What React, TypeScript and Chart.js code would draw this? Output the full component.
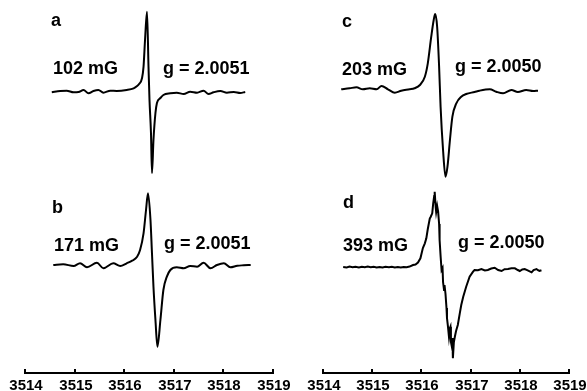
import React, { useEffect, useRef } from "react";
import { Chart, registerables } from "chart.js";

Chart.register(...registerables);

// Magnetic field axis (G)
const fieldTicks = [3514, 3515, 3516, 3517, 3518, 3519];
const fieldTickLabels = ["3514", "3515", "3516", "3517", "3518", "3519"];

// Spectrum a (102 mG, g = 2.0051)
const fieldA = [3514.54, 3514.71, 3514.84, 3514.98, 3515.08, 3515.18, 3515.28, 3515.38, 3515.48, 3515.58, 3515.72, 3515.85, 3516.05, 3516.19, 3516.26, 3516.30, 3516.36, 3516.39, 3516.42, 3516.46, 3516.49, 3516.51, 3516.54, 3516.56, 3516.59, 3516.63, 3516.66, 3516.73, 3516.79, 3516.93, 3517.06, 3517.20, 3517.33, 3517.47, 3517.60, 3517.70, 3517.80, 3517.94, 3518.07, 3518.21, 3518.34, 3518.44];
const signalA = [-1.3, 0, 0.3, -1.3, -1, 1, -2.3, 0, 1, -1.7, 0.3, 0, 1, 2.7, 5, 7, 13, 24.3, 51, 79.3, 24.3, -9, -42, -82, -49, -22, -12, -7, -4, -2.3, -1.7, -3, -0.7, -1.7, 0.3, -3, -1.3, 0, -1.7, -1, -2, -1];

// Spectrum b (171 mG, g = 2.0051)
const fieldB = [3514.57, 3514.77, 3514.98, 3515.11, 3515.25, 3515.45, 3515.58, 3515.78, 3515.92, 3516.05, 3516.16, 3516.26, 3516.32, 3516.39, 3516.44, 3516.48, 3516.53, 3516.56, 3516.59, 3516.63, 3516.67, 3516.73, 3516.79, 3516.86, 3516.93, 3517.06, 3517.20, 3517.33, 3517.47, 3517.60, 3517.74, 3517.87, 3518.01, 3518.14, 3518.28, 3518.41, 3518.55];
const signalB = [0, 0.7, -1, 1.7, -2.3, 2.3, -3.3, 1.7, -1, 1.7, 4.3, 8.3, 15, 31.7, 55, 71.7, 45, 11.7, -21.7, -55, -81.7, -55, -25, -11.7, -5, -2.3, -3.3, -1, -1.7, 2.3, -3.3, 0, 1.7, -2.3, -0.7, -0.3, 0];

// Spectrum c (203 mG, g = 2.0050)
const fieldC = [3514.37, 3514.54, 3514.68, 3514.81, 3514.95, 3515.09, 3515.19, 3515.32, 3515.46, 3515.59, 3515.76, 3515.86, 3515.97, 3516.07, 3516.13, 3516.20, 3516.25, 3516.28, 3516.32, 3516.36, 3516.39, 3516.44, 3516.49, 3516.53, 3516.58, 3516.63, 3516.71, 3516.81, 3516.91, 3517.08, 3517.18, 3517.39, 3517.52, 3517.66, 3517.83, 3517.96, 3518.13, 3518.27, 3518.37];
const signalC = [-0.3, 0.7, 1.7, -0.3, 0.7, -0.3, 3, -0.3, -3.7, -1.7, -0.3, 0.7, 4, 12.3, 25.7, 52.3, 69, 75, 62.3, 22.3, -17.7, -61, -87.7, -77.7, -51, -27.7, -14.3, -7.7, -5, -3, -1.7, -0.3, -2.7, -4.3, -1, -3, -1, -2, -1.7];

// Spectrum d (393 mG, g = 2.0050)
const fieldD = [
  3514.41, 3514.48, 3514.54, 3514.60, 3514.66, 3514.73, 3514.79, 3514.85, 3514.91, 3514.97,
  3515.03, 3515.09, 3515.15, 3515.21, 3515.27, 3515.34, 3515.40, 3515.46, 3515.52, 3515.58,
  3515.64, 3515.70, 3515.76, 3515.83, 3515.88, 3515.93, 3515.98, 3516.03, 3516.07, 3516.10,
  3516.13, 3516.17, 3516.19, 3516.22, 3516.24, 3516.26, 3516.27, 3516.29, 3516.30, 3516.32,
  3516.34, 3516.36, 3516.37, 3516.39, 3516.41, 3516.43, 3516.44, 3516.46, 3516.47, 3516.49,
  3516.51, 3516.52, 3516.54, 3516.56, 3516.58, 3516.59, 3516.60, 3516.62, 3516.63, 3516.64,
  3516.66, 3516.68, 3516.70, 3516.71, 3516.74, 3516.78, 3516.81, 3516.85, 3516.91, 3516.98,
  3517.05, 3517.08, 3517.15, 3517.22, 3517.29, 3517.35, 3517.42, 3517.49, 3517.56, 3517.63,
  3517.69, 3517.76, 3517.83, 3517.90, 3517.96, 3518.00, 3518.05, 3518.10, 3518.16, 3518.24,
  3518.28, 3518.34, 3518.37, 3518.40, 3518.44,
];
const signalD = [
  0.5, 0.1, 0.9, 0.2, 0.8, 0, 0.7, 0.3, 0.9, 0.2,
  0.8, 0.1, 0.6, 0, 0.7, 0.2, 0.8, 0.1, 0.5, 0,
  0.6, 0.3, 0.9, 2.5, 3, 5, 9.2, 19.5, 24.2, 29.2,
  38.5, 49, 50.8, 54.2, 64.2, 71.5, 75.8, 60.5, 55.5, 61.5,
  55.8, 43.5, 27.5, 11.5, -2.5, -0.5, -14.5, -22.5, -17.5, -26.5,
  -40.5, -50.5, -59.2, -69.2, -60.5, -59.2, -74.5, -79.5, -70.5, -90.8,
  -74.5, -69.2, -64.5, -62.5, -57.5, -45.8, -37.5, -29.2, -19.2, -9.2,
  -4.2, -2.5, -2.8, -1.5, -3, -2.5, -1, -0.2, -2.5, -3.5,
  -1.7, -1.5, -0.7, -0.8, -2.5, -3.5, -2, -1.5, -2.8, -4.8,
  -2.5, -1.5, -2.7, -3.5, -2.8,
];

// Stacking offsets of each trace (vertical units of the hidden y axis)
const offsetA = 282;
const offsetB = 108;
const offsetC = 284;
const offsetD = 105.5;

const FONT = 'Arial, "Liberation Sans", Helvetica, sans-serif';

type Label = { text: string; x: number; y: number };

function toPoints(fields: number[], values: number[], offset: number) {
  return fields.map((f, i) => ({ x: f, y: values[i] + offset }));
}

function makeDataset(fields: number[], values: number[], offset: number, smooth: boolean) {
  return {
    data: toPoints(fields, values, offset),
    borderColor: "#000",
    borderWidth: 2,
    pointRadius: 0,
    fill: false,
    tension: smooth ? 0.4 : 0,
    cubicInterpolationMode: smooth ? ("monotone" as const) : ("default" as const),
  };
}

function Panel(props: {
  left: number;
  width: number;
  padLeft: number;
  padRight: number;
  datasets: any[];
  labels: Label[];
}) {
  const ref = useRef<HTMLCanvasElement | null>(null);
  useEffect(() => {
    if (!ref.current) return;
    const labelPlugin = {
      id: "panelLabels",
      afterDraw(chart: any) {
        const ctx = chart.ctx;
        ctx.save();
        ctx.fillStyle = "#000";
        ctx.font = `bold 18px ${FONT}`;
        ctx.textBaseline = "alphabetic";
        ctx.textAlign = "left";
        for (const l of props.labels) ctx.fillText(l.text, l.x, l.y);
        ctx.restore();
      },
    };
    const axisPlugin = {
      id: "fieldAxis",
      afterDraw(chart: any) {
        const s = chart.scales.x;
        const ctx = chart.ctx;
        ctx.save();
        ctx.strokeStyle = "#000";
        ctx.fillStyle = "#000";
        ctx.lineWidth = 2;
        ctx.font = `bold 15px ${FONT}`;
        ctx.textAlign = "center";
        ctx.textBaseline = "alphabetic";
        fieldTicks.forEach((v, i) => {
          const px = Math.round(s.getPixelForValue(v));
          ctx.beginPath();
          ctx.moveTo(px, s.top + 1);
          ctx.lineTo(px, s.top - 4);
          ctx.stroke();
          ctx.fillText(fieldTickLabels[i], px + 1, s.top + 17);
        });
        ctx.restore();
      },
    };
    const chart = new Chart(ref.current, {
      type: "line",
      data: { datasets: props.datasets },
      options: {
        animation: false,
        responsive: false,
        devicePixelRatio: 1,
        layout: { padding: { left: props.padLeft, right: props.padRight, top: 0, bottom: 18 } },
        plugins: { legend: { display: false }, tooltip: { enabled: false } },
        scales: {
          x: {
            type: "linear",
            min: 3514,
            max: 3519,
            grid: { display: false, drawTicks: false },
            border: { display: true, color: "#000", width: 2 },
            ticks: { display: false },
          },
          y: { type: "linear", min: 0, max: 373, display: false },
        },
      },
      plugins: [labelPlugin, axisPlugin],
    } as any);
    return () => chart.destroy();
  }, []);
  return (
    <canvas
      ref={ref}
      width={props.width}
      height={391}
      style={{ position: "absolute", left: props.left, top: 0, width: props.width, height: 391 }}
    />
  );
}

export default function App() {
  const leftSets = [
    makeDataset(fieldA, signalA, offsetA, true),
    makeDataset(fieldB, signalB, offsetB, true),
  ];
  const rightSets = [
    makeDataset(fieldC, signalC, offsetC, true),
    makeDataset(fieldD, signalD, offsetD, false),
  ];
  const leftLabels: Label[] = [
    { text: "a", x: 51, y: 26 },
    { text: "102 mG", x: 53, y: 74 },
    { text: "g = 2.0051", x: 163, y: 73.5 },
    { text: "b", x: 52, y: 212.5 },
    { text: "171 mG", x: 54, y: 251 },
    { text: "g = 2.0051", x: 164, y: 249 },
  ];
  const rightLabels: Label[] = [
    { text: "c", x: 49, y: 26.5 },
    { text: "203 mG", x: 49, y: 75 },
    { text: "g = 2.0050", x: 162, y: 72 },
    { text: "d", x: 50, y: 208 },
    { text: "393 mG", x: 50, y: 250.5 },
    { text: "g = 2.0050", x: 165, y: 248 },
  ];
  return (
    <div style={{ position: "fixed", left: 0, top: 0, width: 587, height: 391, overflow: "hidden", background: "#fff" }}>
      <Panel left={0} width={293} padLeft={25} padRight={20} datasets={leftSets} labels={leftLabels} />
      <Panel left={293} width={294} padLeft={30} padRight={18} datasets={rightSets} labels={rightLabels} />
    </div>
  );
}
